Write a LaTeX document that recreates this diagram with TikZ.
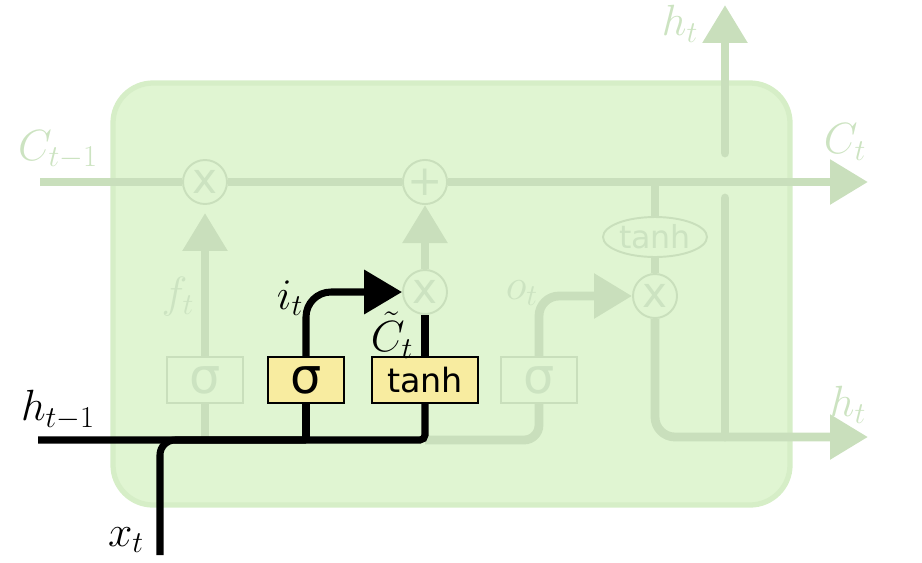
\documentclass[tikz,border=0pt]{standalone}
\usepackage{fontspec}
\usepackage{amsmath}
\usetikzlibrary{arrows.meta,shapes.geometric}
\newfontfamily\gatefont{DejaVu Sans}
\definecolor{cellfill}{RGB}{224,245,210}
\definecolor{cellrim}{RGB}{214,238,199}
\definecolor{faded}{RGB}{201,223,188}
\definecolor{fadedtxt}{RGB}{204,227,193}
\definecolor{gatefill}{RGB}{248,236,160}

\begin{document}
\begin{tikzpicture}[x=0.02cm, y=-0.02cm,
    line/.style={line width=4pt, black},
    fline/.style={line width=5pt, faded},
    tip/.style={-{Triangle[length=0.76cm,width=0.86cm]}},
    gate/.style={draw=black, line width=1.1pt, fill=gatefill, minimum height=0.92cm, minimum width=1.52cm, inner sep=2pt, font=\gatefont\fontsize{19}{22}\selectfont},
    sig/.style={font=\gatefont\fontsize{28}{30}\selectfont},
    fgate/.style={gate, draw=faded, fill=cellfill, text=fadedtxt},
    op/.style={circle, draw=faded, line width=1.1pt, fill=cellfill, minimum size=0.88cm, inner sep=0pt, text=fadedtxt, font=\gatefont\fontsize{24}{26}\selectfont},
    lbl/.style={font=\fontsize{27}{30}\selectfont, inner sep=0pt},
    flbl/.style={lbl, text=fadedtxt}]
    \useasboundingbox (0,0) rectangle (922,562);
    \draw[cellrim, fill=cellfill, line width=3pt, rounded corners=0.8cm] (113,83) rectangle (790,505);

    % pointwise ops and gates
    \node[op] (fx) at (205,182) {x};
    \node[op] (add) at (425,182) {+};
    \node[op] (ix) at (425,292) {x};
    \node[op] (ox) at (655,296) {x};
    \node[op, ellipse, minimum width=2.08cm, minimum height=0.8cm, font=\gatefont\fontsize{18}{20}\selectfont] (ctanh) at (655,237) {tanh};
    \node[fgate, sig] (fsig) at (205,380) {σ};
    \node[gate, sig] (isig) at (306,380) {σ};
    \node[gate, minimum width=2.12cm] (itanh) at (425,380) {tanh};
    \node[fgate, sig] (osig) at (539,380) {σ};

    \coordinate (cin) at (40,182);
    \coordinate (cout) at (868,182);
    \coordinate (tap) at (655,182);
    \coordinate (hin) at (38,440);
    \coordinate (xin) at (160,555);
    \coordinate (hout) at (868,437);
    \coordinate (hup) at (725,5);

    % cell state and faded paths
    \draw[fline] (cin) -- (fx.west);
    \draw[fline] (fx.east) -- (add.west);
    \draw[fline, tip] (add.east) -- (cout);
    \draw[fline] (tap) -- (ctanh.north);
    \draw[fline] (ctanh.south) -- (ox.north);
    \draw[fline, tip, rounded corners=0.4cm] (ox.south) |- (hout);
    \draw[fline, line cap=round] (725,437) -- (725,198);
    \draw[fline, tip, line cap=round] (725,153) -- (hup);
    \draw[fline, tip, shorten >=0.16cm] (fsig.north) -- (fx.south);
    \draw[fline] (fsig.south) -- (fsig.south |- hin);
    \draw[fline, tip] (ix.north) -- (add.south);
    \draw[fline, tip, rounded corners=0.4cm] (osig.north) |- (ox.west);
    \draw[fline, rounded corners=0.3cm] (itanh.south |- hin) -| (osig.south);

    % input gate path
    \draw[line, rounded corners=0.1cm] (hin) -| (itanh.south);
    \draw[line] (isig.south) -- (isig.south |- hin);
    \draw[line, rounded corners=0.3cm] (xin) |- (isig.south |- hin);
    \draw[line, tip, rounded corners=0.5cm] (isig.north) |- (ix.west);
    \draw[line] (itanh.north) -- (ix.south);

    % labels
    \node[flbl] (lc0) at (58,150) {$C_{t-1}$};
    \node[flbl] (lc1) at (845,142) {$C_t$};
    \node[flbl] (lh0) at (680,24) {$h_t$};
    \node[flbl] (lh1) at (848,405) {$h_t$};
    \node[flbl] (lf) at (178,297) {$f_t$};
    \node[flbl] (lo) at (522,293) {$o_t$};
    \node[lbl] (li) at (290,298) {$i_t$};
    \node[lbl] (lct) at (392,335) {$\tilde{C}_t$};
    \node[lbl] (lh) at (58,410) {$h_{t-1}$};
    \node[lbl] (lx) at (126,540) {$x_t$};
\end{tikzpicture}
\end{document}
